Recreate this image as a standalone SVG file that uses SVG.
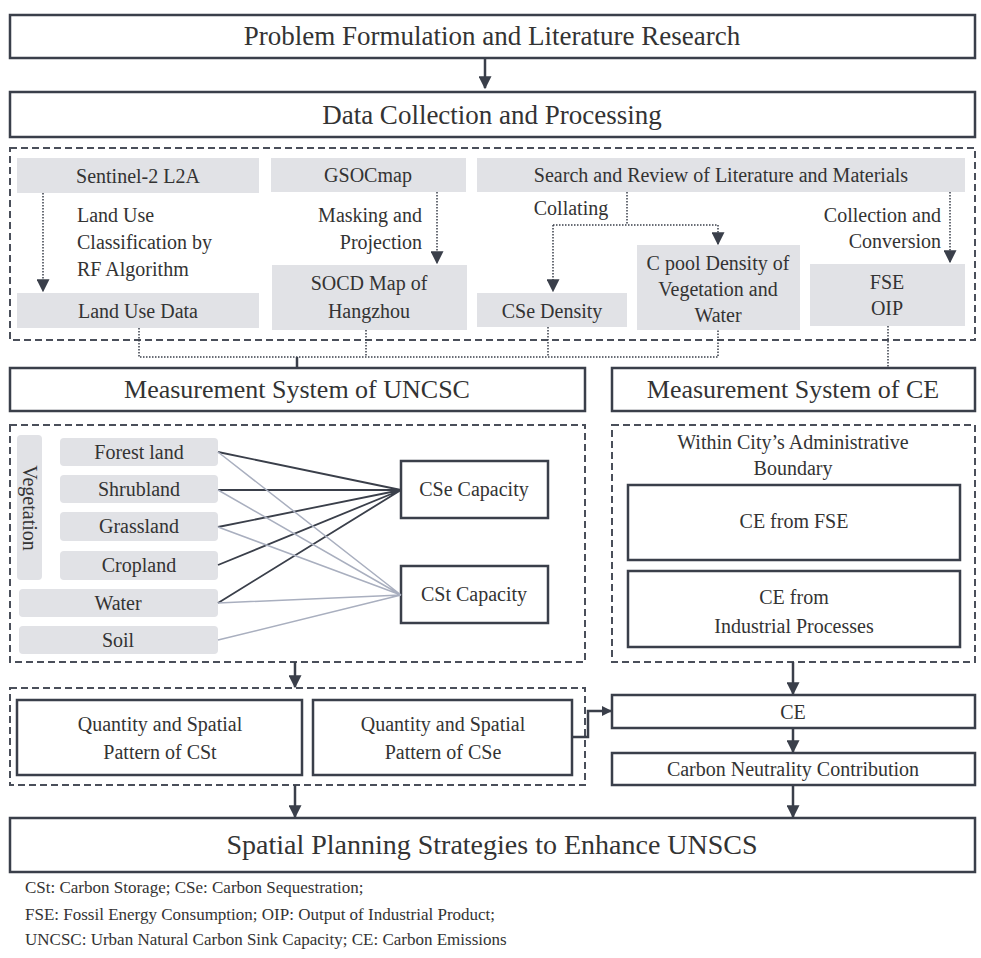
<svg xmlns="http://www.w3.org/2000/svg" width="981" height="958" viewBox="0 0 981 958">
<defs>
<marker id="ar" viewBox="0 0 10 10" refX="9" refY="5" markerWidth="10" markerHeight="10" markerUnits="userSpaceOnUse" orient="auto"><path d="M0,0 L10,5 L0,10 z" fill="#3a3f4a"/></marker>
<marker id="ar2" viewBox="0 0 10 10" refX="9" refY="5" markerWidth="13" markerHeight="13" markerUnits="userSpaceOnUse" orient="auto"><path d="M0,0 L10,5 L0,10 z" fill="#3a3f4a"/></marker>
</defs>
<style>
text{font-family:'Liberation Serif','Times New Roman','DejaVu Serif',serif;fill:#333;text-anchor:middle}
text.st{text-anchor:start}
text.en{text-anchor:end}
.b{fill:#fff;stroke:#3a3f4a;stroke-width:2.5}
.d{fill:none;stroke:#4a4f5a;stroke-width:2;stroke-dasharray:7,4}
.g{fill:#e1e2e6}
.dot{fill:none;stroke:#3a3f4a;stroke-width:1.5;stroke-dasharray:1.5,1.5}
.s{fill:none;stroke:#3a3f4a;stroke-width:2.5}
.dk{stroke:#3a3f4a;stroke-width:1.8}
.lt{stroke:#a9afbf;stroke-width:1.5}
.t19{font-size:20px}
.t24{font-size:26px}
</style>
<g id="n1"><rect class="b" x="10" y="15" width="965" height="43"/><text x="492" y="45" font-size="27">Problem Formulation and Literature Research</text></g>
<g id="n2"><rect class="b" x="10" y="92" width="965" height="45"/><text x="492" y="124" font-size="27">Data Collection and Processing</text></g>
<g id="data"><rect class="d" x="10" y="148" width="965" height="192"/>
<rect class="g" x="17" y="158" width="242" height="35"/><text class="t19" x="138" y="183">Sentinel-2 L2A</text>
<rect class="g" x="271" y="158" width="195" height="34"/><text class="t19" x="368" y="182">GSOCmap</text>
<rect class="g" x="477" y="158" width="488" height="34"/><text class="t19" x="721" y="182">Search and Review of Literature and Materials</text>
<rect class="g" x="17" y="293" width="242" height="35"/><text class="t19" x="138" y="318">Land Use Data</text>
<rect class="g" x="272" y="265" width="195" height="65"/><text class="t19" x="369" y="290">SOCD Map of</text><text class="t19" x="369" y="318">Hangzhou</text>
<rect class="g" x="477" y="293" width="150" height="34"/><text class="t19" x="552" y="318">CSe Density</text>
<rect class="g" x="637" y="245" width="163" height="85"/><text class="t19" x="718" y="270">C pool Density of</text><text class="t19" x="718" y="296">Vegetation and</text><text class="t19" x="718" y="322">Water</text>
<rect class="g" x="810" y="264" width="155" height="62"/><text class="t19" x="887" y="289">FSE</text><text class="t19" x="887" y="315">OIP</text>
<text class="t19 st" x="77" y="222">Land Use</text>
<text class="t19 st" x="77" y="249">Classification by</text>
<text class="t19 st" x="77" y="276">RF Algorithm</text>
<text class="t19 en" x="422" y="222">Masking and</text>
<text class="t19 en" x="422" y="249">Projection</text>
<text class="t19" x="571" y="215">Collating</text>
<text class="t19 en" x="941" y="222">Collection and</text>
<text class="t19 en" x="941" y="248">Conversion</text>
</g>
<g id="n3"><rect class="b" x="10" y="368" width="575" height="43"/><text class="t24" x="297" y="398">Measurement System of UNCSC</text></g>
<g id="n4"><rect class="b" x="612" y="368" width="363" height="43"/><text class="t24" x="793" y="398">Measurement System of CE</text></g>
<g id="uncsc"><rect class="d" x="10" y="425" width="575" height="237"/>
<rect class="g" x="17" y="435" width="25" height="145" rx="4"/><text class="t19" transform="translate(23,508) rotate(90)">Vegetation</text>
<rect class="g" x="60" y="438" width="158" height="28" rx="4"/><text class="t19" x="139" y="459">Forest land</text>
<rect class="g" x="60" y="475" width="158" height="28" rx="4"/><text class="t19" x="139" y="496">Shrubland</text>
<rect class="g" x="60" y="512" width="158" height="29" rx="4"/><text class="t19" x="139" y="533">Grassland</text>
<rect class="g" x="60" y="551" width="158" height="29" rx="4"/><text class="t19" x="139" y="572">Cropland</text>
<rect class="g" x="19" y="589" width="199" height="28" rx="4"/><text class="t19" x="118" y="610">Water</text>
<rect class="g" x="19" y="626" width="199" height="28" rx="4"/><text class="t19" x="118" y="647">Soil</text>
<rect class="b" x="401" y="461" width="147" height="57"/><text class="t19" x="474" y="496">CSe Capacity</text>
<rect class="b" x="401" y="566" width="147" height="57"/><text class="t19" x="474" y="601">CSt Capacity</text>
</g>
<g id="ce"><rect class="d" x="612" y="425" width="363" height="237"/>
<text class="t19" x="793" y="449">Within City’s Administrative</text>
<text class="t19" x="793" y="475">Boundary</text>
<rect class="b" x="628" y="485" width="332" height="75"/><text class="t19" x="794" y="528">CE from FSE</text>
<rect class="b" x="628" y="571" width="332" height="76"/><text class="t19" x="794" y="604">CE from</text><text class="t19" x="794" y="633">Industrial Processes</text>
</g>
<g id="quant"><rect class="d" x="10" y="688" width="575" height="97"/>
<rect class="b" x="17" y="700" width="285" height="75"/><text class="t19" x="160" y="731">Quantity and Spatial</text><text class="t19" x="160" y="759">Pattern of CSt</text>
<rect class="b" x="313" y="700" width="259" height="75"/><text class="t19" x="443" y="731">Quantity and Spatial</text><text class="t19" x="443" y="759">Pattern of CSe</text>
</g>
<g id="n5"><rect class="b" x="612" y="695" width="363" height="33"/><text class="t19" x="793" y="719">CE</text></g>
<g id="n6"><rect class="b" x="612" y="753" width="363" height="32"/><text class="t19" x="793" y="776">Carbon Neutrality Contribution</text></g>
<g id="n7"><rect class="b" x="10" y="818" width="965" height="54"/><text x="492" y="854" font-size="28">Spatial Planning Strategies to Enhance UNSCS</text></g>
<g id="notes">
<text class="st" x="25" y="893" font-size="17">CSt: Carbon Storage; CSe: Carbon Sequestration;</text>
<text class="st" x="25" y="920" font-size="17">FSE: Fossil Energy Consumption; OIP: Output of Industrial Product;</text>
<text class="st" x="25" y="945" font-size="17">UNCSC: Urban Natural Carbon Sink Capacity; CE: Carbon Emissions</text>
</g>
<g id="connectors">
<path class="s" d="M485,58 V88" marker-end="url(#ar2)"/>
<path class="dot" d="M43,193 V291" marker-end="url(#ar2)"/>
<path class="dot" d="M437,192 V263" marker-end="url(#ar2)"/>
<path class="dot" d="M627,192 V225 M553,225 H718"/>
<path class="dot" d="M553,225 V291" marker-end="url(#ar2)"/>
<path class="dot" d="M718,225 V244" marker-end="url(#ar2)"/>
<path class="dot" d="M950,192 V262" marker-end="url(#ar2)"/>
<path class="dot" d="M139,328 V357 H718 V330 M366,330 V357 M548,327 V357"/>
<path class="s" d="M297,357 V368" stroke-width="1.5"/>
<path class="dot" d="M888,326 V368"/>
<path class="dk" d="M218,452 L401,490 M218,490 L401,490 M218,527 L401,490 M218,565 L401,490 M218,603 L401,490"/>
<path class="lt" d="M218,452 L401,595 M218,490 L401,595 M218,527 L401,595 M218,603 L401,595 M218,640 L401,595"/>
<path class="s" d="M295,662 V687" marker-end="url(#ar2)"/>
<path class="s" d="M793,662 V694" marker-end="url(#ar2)"/>
<path class="s" d="M572,737 H588 V711 H611" stroke-width="2" marker-end="url(#ar)"/>
<path class="s" d="M793,728 V752" marker-end="url(#ar2)"/>
<path class="s" d="M295,785 V817" marker-end="url(#ar2)"/>
<path class="s" d="M793,785 V817" marker-end="url(#ar2)"/>
</g>
</svg>
